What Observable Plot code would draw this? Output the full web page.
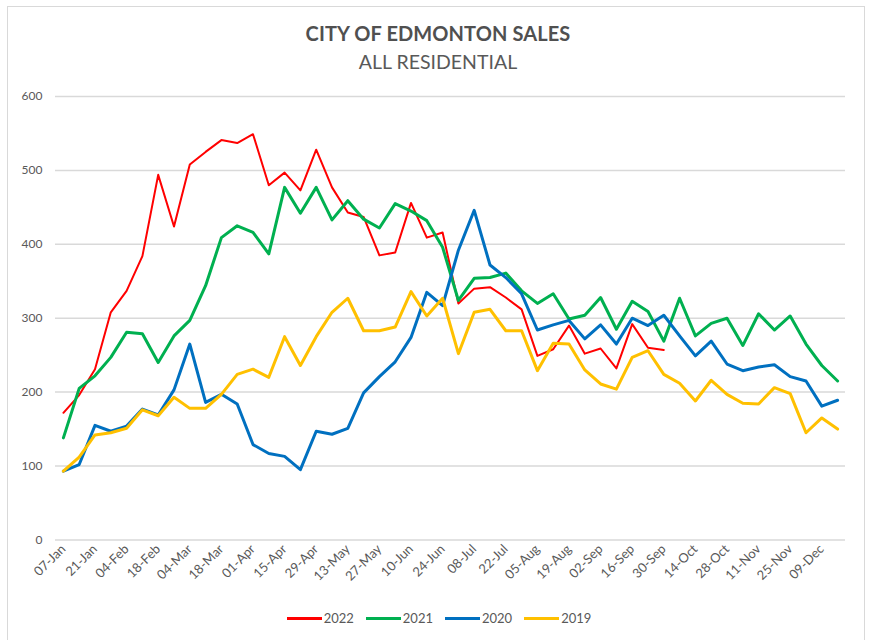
<!DOCTYPE html>
<html>
<head>
<meta charset="utf-8">
<script src="https://cdn.jsdelivr.net/npm/d3@7"></script>
<script src="https://cdn.jsdelivr.net/npm/@observablehq/plot@0.6"></script>
<style>
  html, body { margin: 0; padding: 0; background: #fff; }
  body { width: 870px; height: 640px; position: relative; overflow: hidden; font-family: Lato, "Open Sans", sans-serif; }
  #frame { position: absolute; left: 7px; top: 6px; width: 858px; height: 640px; border: 1px solid #d9d9d9; box-sizing: border-box; }
  #title { position: absolute; left: 0; width: 876px; top: 22px; text-align: center; font-size: 20px; font-weight: bold; color: #505050; line-height: 22px; letter-spacing: 0.1px; }
  #subtitle { position: absolute; left: 0; width: 876px; top: 51px; text-align: center; font-size: 19.5px; color: #595959; line-height: 22px; }
  #chart { position: absolute; left: 0; top: 80px; }
  #legend { position: absolute; left: 0; width: 870px; top: 610px; display: flex; justify-content: center; gap: 12px; font-size: 13px; color: #595959; padding-left: 8px; box-sizing: border-box; }
  .item { display: flex; align-items: center; gap: 2px; }
  .sw { display: inline-block; width: 35px; height: 3px; }
</style>
</head>
<body>
<div id="frame"></div>
<div id="title">CITY OF EDMONTON SALES</div>
<div id="subtitle">ALL RESIDENTIAL</div>
<div id="chart"></div>
<div id="legend"></div>
<script>
const weeks = ["07-Jan","14-Jan","21-Jan","28-Jan","04-Feb","11-Feb","18-Feb","25-Feb","04-Mar","11-Mar",
  "18-Mar","25-Mar","01-Apr","08-Apr","15-Apr","22-Apr","29-Apr","06-May","13-May","20-May",
  "27-May","03-Jun","10-Jun","17-Jun","24-Jun","01-Jul","08-Jul","15-Jul","22-Jul","29-Jul",
  "05-Aug","12-Aug","19-Aug","26-Aug","02-Sep","09-Sep","16-Sep","23-Sep","30-Sep","07-Oct",
  "14-Oct","21-Oct","28-Oct","04-Nov","11-Nov","18-Nov","25-Nov","02-Dec","09-Dec","16-Dec"];

const sales2022 = [172,196,231,308,337,384,494,424,508,525,541,537,549,480,497,473,528,477,443,437,
  385,389,456,409,416,320,340,342,328,312,249,258,290,252,259,232,292,260,257];
const sales2021 = [138,205,222,247,281,279,240,276,297,344,409,425,416,387,477,442,477,433,459,434,
  422,455,445,432,396,324,354,355,361,337,320,333,299,304,328,285,323,309,269,327,
  276,293,300,263,306,284,303,265,236,215];
const sales2020 = [93,102,155,147,154,177,169,203,265,186,197,184,129,117,113,95,147,143,151,199,
  221,241,274,335,317,392,446,372,355,333,284,291,297,272,291,265,300,290,304,276,
  249,269,238,229,234,237,221,215,181,189];
const sales2019 = [93,112,142,145,151,176,168,193,178,178,197,224,231,220,275,236,275,308,327,283,
  283,288,336,303,327,252,308,312,283,283,229,266,265,230,211,204,247,256,224,212,
  188,216,197,185,184,206,198,145,165,150];

const seriesNames = ["2022","2021","2020","2019"];
const seriesColors = ["#ff0000","#00b050","#0070c0","#ffc000"];
const seriesWidths = [2,3,3,3];
const seriesValues = [sales2022, sales2021, sales2020, sales2019];
const yTicks = [0,100,200,300,400,500,600];
const xTicks = weeks.filter((d, i) => i % 2 === 0);

const rows = [];
seriesValues.forEach((vals, s) => vals.forEach((v, i) => rows.push({week: weeks[i], value: v, series: seriesNames[s]})));

const lineMarks = seriesNames.map((name, s) =>
  Plot.line(rows.filter(r => r.series === name), {
    x: "week", y: "value", stroke: seriesColors[s], strokeWidth: seriesWidths[s],
    strokeLinejoin: "round", strokeLinecap: "round"
  })
);

const chart = Plot.plot({
  width: 870,
  height: 530,
  marginLeft: 55,
  marginRight: 25,
  marginTop: 16,
  marginBottom: 70.6,
  style: {fontFamily: "Lato, 'Open Sans', sans-serif", background: "transparent"},
  x: {type: "point", domain: weeks, padding: 0.5, axis: null},
  y: {domain: [0, 600], axis: null},
  marks: [
    Plot.ruleY(yTicks, {stroke: "#d9d9d9", strokeWidth: 1.5}),
    Plot.axisY(yTicks, {tickSize: 0, tickPadding: 13, fontSize: 12, fill: "#595959", label: null}),
    Plot.axisX(xTicks, {tickSize: 0, tickPadding: 7, tickRotate: -45, fontSize: 13, fill: "#595959", label: null}),
    ...lineMarks
  ]
});
document.getElementById("chart").appendChild(chart);

const legend = document.getElementById("legend");
seriesNames.forEach((name, s) => {
  const it = document.createElement("div");
  it.className = "item";
  const sw = document.createElement("span");
  sw.className = "sw";
  sw.style.background = seriesColors[s];
  const tx = document.createElement("span");
  tx.textContent = name;
  it.appendChild(sw); it.appendChild(tx);
  legend.appendChild(it);
});
</script>
</body>
</html>
